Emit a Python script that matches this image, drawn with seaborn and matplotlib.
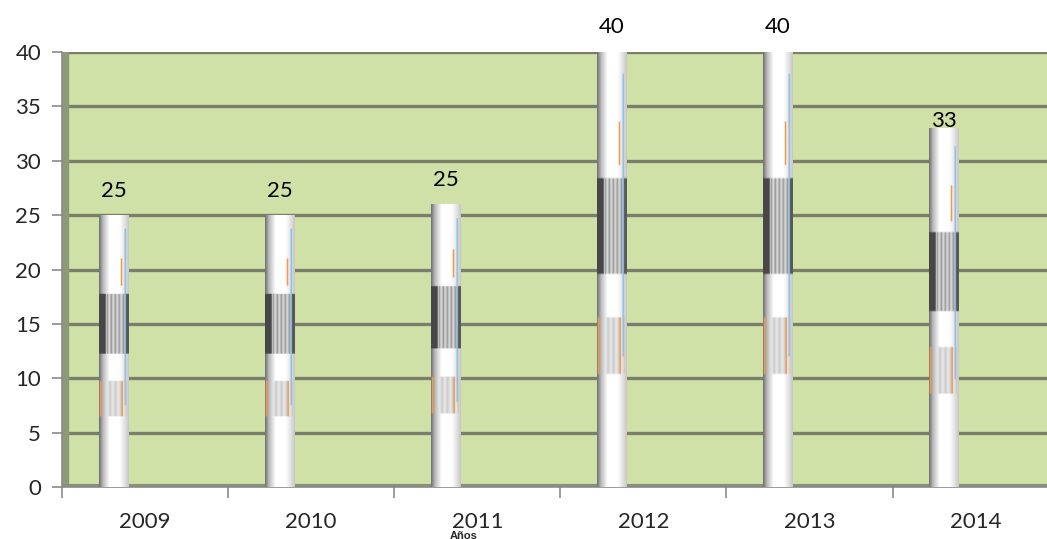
import matplotlib
matplotlib.use("Agg")
import matplotlib.pyplot as plt
import numpy as np
import pandas as pd
import seaborn as sns

# datos del grafico
anios = ["2009", "2010", "2011", "2012", "2013", "2014"]
valores = [25, 25, 26, 40, 40, 33]
etiquetas = ["25", "25", "25", "40", "40", "33"]
ticks_y = [0, 5, 10, 15, 20, 25, 30, 35, 40]

df = pd.DataFrame({"anio": anios, "valor": valores})

sns.set_style("white")
plt.rcParams["font.family"] = ["Lato", "DejaVu Sans"]

fig = plt.figure(figsize=(10.47, 5.39), dpi=100)
ax = fig.add_axes([62 / 1047, 52 / 539, 985 / 1047, 435 / 539])
ax.set_facecolor("#d0e1a8")

sns.barplot(data=df, x="anio", y="valor", color="white", width=0.18,
            saturation=1, edgecolor="none", ax=ax, zorder=3)


# textura tipo cilindro para las barras
def textura():
    h, w = 200, 40
    x = np.linspace(0, 1, w)
    perfil = np.interp(x, [0, 0.12, 0.35, 0.7, 0.88, 1.0],
                       [0.45, 0.72, 1.0, 1.0, 0.88, 0.78])
    img = np.ones((h, w, 3)) * perfil[None, :, None]
    yy = np.linspace(0, 1, h)[:, None]  # 0 abajo, 1 arriba
    xx = x[None, :]
    # banda oscura
    banda = (yy > 0.49) & (yy < 0.71)
    oscuro = 0.55 + 0.3 * np.abs(np.sin(xx * 23))
    oscuro = np.where(xx < 0.22, 0.28, oscuro)
    oscuro = np.where(xx > 0.9, 0.35, oscuro)
    for c in range(3):
        img[:, :, c] = np.where(banda, np.minimum(img[:, :, c], oscuro), img[:, :, c])
    # banda clara con tonos grises
    banda2 = (yy > 0.26) & (yy < 0.39)
    claro = 0.78 + 0.12 * np.abs(np.sin(xx * 17))
    for c in range(3):
        img[:, :, c] = np.where(banda2, np.minimum(img[:, :, c], claro), img[:, :, c])
    # trazos naranjas
    naranja = np.array([0.95, 0.6, 0.3])
    for y0, y1, x0, x1 in [(0.26, 0.39, 0.0, 0.06), (0.26, 0.39, 0.76, 0.82),
                           (0.74, 0.84, 0.72, 0.78)]:
        m = (yy > y0) & (yy < y1) & (xx > x0) & (xx < x1)
        img[m] = naranja
    # linea azul
    m = (yy > 0.3) & (yy < 0.95) & (xx > 0.86) & (xx < 0.9)
    img[m] = np.array([0.55, 0.75, 0.9])
    return img[::-1]


tex = textura()
for p in ax.patches:
    x0, y0 = p.get_x(), p.get_y()
    ax.imshow(tex, extent=[x0, x0 + p.get_width(), y0, y0 + p.get_height()],
              aspect="auto", zorder=4, clip_path=p, clip_on=True,
              interpolation="bilinear")

# etiquetas sobre las barras (separacion en puntos)
separacion = [10, 10, 10, 11, 11, -2]
for p, txt, sep in zip(ax.patches, etiquetas, separacion):
    ax.annotate(txt, (p.get_x() + p.get_width() / 2, p.get_height()),
                xytext=(0, sep), textcoords="offset points",
                ha="center", va="bottom", fontsize=16, color="black",
                annotation_clip=False)

# ejes y cuadricula
ax.set_ylim(0, 40)
ax.set_xlim(-0.31, 5.62)
ax.set_yticks(ticks_y)
ax.yaxis.grid(True, color="#7b7e6a", linewidth=2.4)
ax.set_axisbelow(True)

# pared lateral
ax.axvspan(-0.31, -0.31 + 6 / 166, color="#8d9a78", zorder=2)
ax.axhline(0.12, color="#8a8f7a", linewidth=3, zorder=2)

ax.set_xticks([i - 0.31 for i in range(6)])
ax.set_xticklabels([])
ax.set_xticks([i + 0.19 for i in range(6)], minor=True)
ax.set_xticklabels(anios, minor=True, fontsize=16)
ax.tick_params(axis="x", which="major", length=8, width=1.2, color="#8a8a8a",
               direction="out", bottom=True)
ax.tick_params(axis="x", which="minor", length=0, pad=18)
ax.tick_params(axis="y", length=7, width=1.2, color="#8a8a8a", direction="out",
               left=True, pad=8, labelsize=16)

for s in ["top", "right"]:
    ax.spines[s].set_visible(False)
for s in ["left", "bottom"]:
    ax.spines[s].set_color("#8a8a8a")
    ax.spines[s].set_linewidth(1.2)

ax.set_xlabel("")
ax.set_ylabel("")
fig.text(464 / 1047, 1 - 531 / 539, "Años", ha="center", va="top",
         fontsize=8, fontweight="bold", family=["Liberation Sans", "DejaVu Sans"])

fig.savefig("out.png", dpi=100)
